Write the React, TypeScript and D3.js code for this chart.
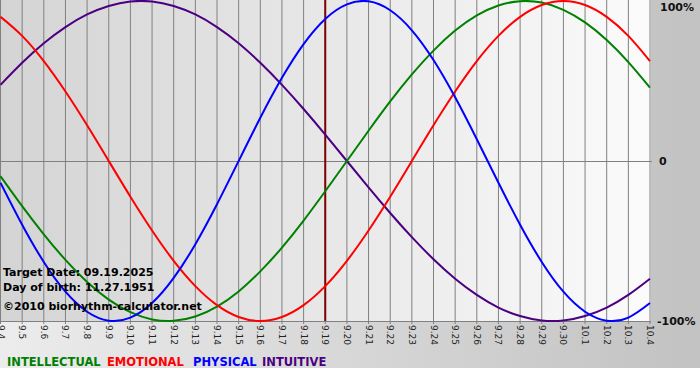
import React from "react";
import * as d3 from "d3";

const days = ["9.4","9.5","9.6","9.7","9.8","9.9","9.10","9.11","9.12","9.13","9.14","9.15","9.16","9.17","9.18","9.19","9.20","9.21","9.22","9.23","9.24","9.25","9.26","9.27","9.28","9.29","9.30","10.1","10.2","10.3","10.4"];

const physical = [-0.136,-0.398,-0.631,-0.817,-0.942,-0.998,-0.979,-0.888,-0.731,-0.520,-0.270,0,0.270,0.520,0.731,0.888,0.979,0.998,0.942,0.817,0.631,0.398,0.136,-0.136,-0.398,-0.631,-0.817,-0.942,-0.998,-0.979,-0.888];
const emotional = [0.901,0.782,0.624,0.434,0.223,0,-0.223,-0.434,-0.624,-0.782,-0.901,-0.975,-1,-0.975,-0.901,-0.782,-0.624,-0.434,-0.223,0,0.223,0.434,0.624,0.782,0.901,0.975,1,0.975,0.901,0.782,0.624];
const intellectual = [-0.095,-0.282,-0.458,-0.618,-0.756,-0.866,-0.945,-0.990,-0.999,-0.972,-0.910,-0.815,-0.690,-0.541,-0.372,-0.189,0,0.189,0.372,0.541,0.690,0.815,0.910,0.972,0.999,0.990,0.945,0.866,0.756,0.618,0.458];
const intuitive = [0.476,0.614,0.736,0.837,0.916,0.969,0.997,0.997,0.969,0.916,0.837,0.736,0.614,0.476,0.325,0.165,0,-0.165,-0.325,-0.476,-0.614,-0.736,-0.837,-0.916,-0.969,-0.997,-0.997,-0.969,-0.916,-0.837,-0.736];

const targetDay = "9.19";
const yTicks = [{ v: 1, label: "100%" }, { v: 0, label: "0" }, { v: -1, label: "-100%" }];
const infoLines = ["Target Date: 09.19.2025", "Day of birth: 11.27.1951"];
const copyright = "\u00A92010 biorhythm-calculator.net";

const seriesList = [
  { name: "INTELLECTUAL", values: intellectual, color: "#008000" },
  { name: "EMOTIONAL", values: emotional, color: "#ff0000" },
  { name: "PHYSICAL", values: physical, color: "#0000ff" },
  { name: "INTUITIVE", values: intuitive, color: "#4b0082" },
];
const drawOrder = ["INTUITIVE", "INTELLECTUAL", "EMOTIONAL", "PHYSICAL"];

export default function App() {
  const W = 700, H = 380;
  const plotL = 0.5, plotR = 650, plotT = 0, plotB = 321;
  const x = d3.scalePoint<string>().domain(days).range([plotL, plotR]);
  const y = d3.scaleLinear().domain([-1, 1]).range([plotB, plotT + 1]);
  const line = d3.line<number>()
    .x((_, i) => x(days[i]) as number)
    .y((v) => y(v))
    .curve(d3.curveNatural);
  const font = "'DejaVu Sans', Verdana, sans-serif";
  const legendX = [7, 107, 193, 262];

  return (
    <svg width={W} height={H} style={{ position: "absolute", left: 0, top: 0 }} fontFamily={font}>
      <defs>
        <linearGradient id="bg" x1="0" x2="1" y1="0" y2="0">
          <stop offset="0" stopColor="#ececec" />
          <stop offset="1" stopColor="#c2c2c2" />
        </linearGradient>
        <linearGradient id="plotbg" x1="0" x2="1" y1="0" y2="0">
          <stop offset="0" stopColor="#d4d4d4" />
          <stop offset="1" stopColor="#fbfbfb" />
        </linearGradient>
      </defs>
      <rect x={0} y={0} width={W} height={368} fill="url(#bg)" />
      <rect x={0} y={0} width={651} height={321} fill="url(#plotbg)" />
      {days.map((d) => (
        <line key={"g" + d} x1={x(d)} x2={x(d)} y1={plotT} y2={plotB + 3} stroke="#808080" strokeWidth={1} />
      ))}
      <line x1={0} x2={652} y1={Math.round(y(0)) + 0.5} y2={Math.round(y(0)) + 0.5} stroke="#808080" />
      <line x1={0} x2={651} y1={plotB + 0.5} y2={plotB + 0.5} stroke="#808080" />
      <line x1={x(targetDay)} x2={x(targetDay)} y1={plotT} y2={plotB} stroke="#800000" strokeWidth={2} />
      {drawOrder.map((n) => {
        const s = seriesList.find((q) => q.name === n)!;
        return <path key={n} d={line(s.values) || ""} fill="none" stroke={s.color} strokeWidth={2} />;
      })}
      {yTicks.map((t) => (
        <text key={t.label} x={t.v === 0 ? 659 : t.v > 0 ? 660 : 657} y={t.v === 1 ? 7 : y(t.v)} dy="0.35em"
          fontSize={11} fontWeight="bold" fill="#111">{t.label}</text>
      ))}
      {days.map((d) => (
        <text key={"l" + d} transform={`translate(${x(d)},${plotB + 4}) rotate(90)`} fontSize={9}
          dominantBaseline="central" fill="#222">{d}</text>
      ))}
      {infoLines.map((t, i) => (
        <text key={t} x={3} y={276 + i * 15} fontSize={11} fontWeight="bold" fill="#000">{t}</text>
      ))}
      <text x={3} y={310} fontSize={11} fontWeight="bold" fill="#000">{copyright}</text>
      {seriesList.map((s, i) => (
        <text key={"lg" + s.name} x={legendX[i]} y={366} fontSize={11.5} fontWeight="bold" fill={s.color}>{s.name}</text>
      ))}
    </svg>
  );
}
